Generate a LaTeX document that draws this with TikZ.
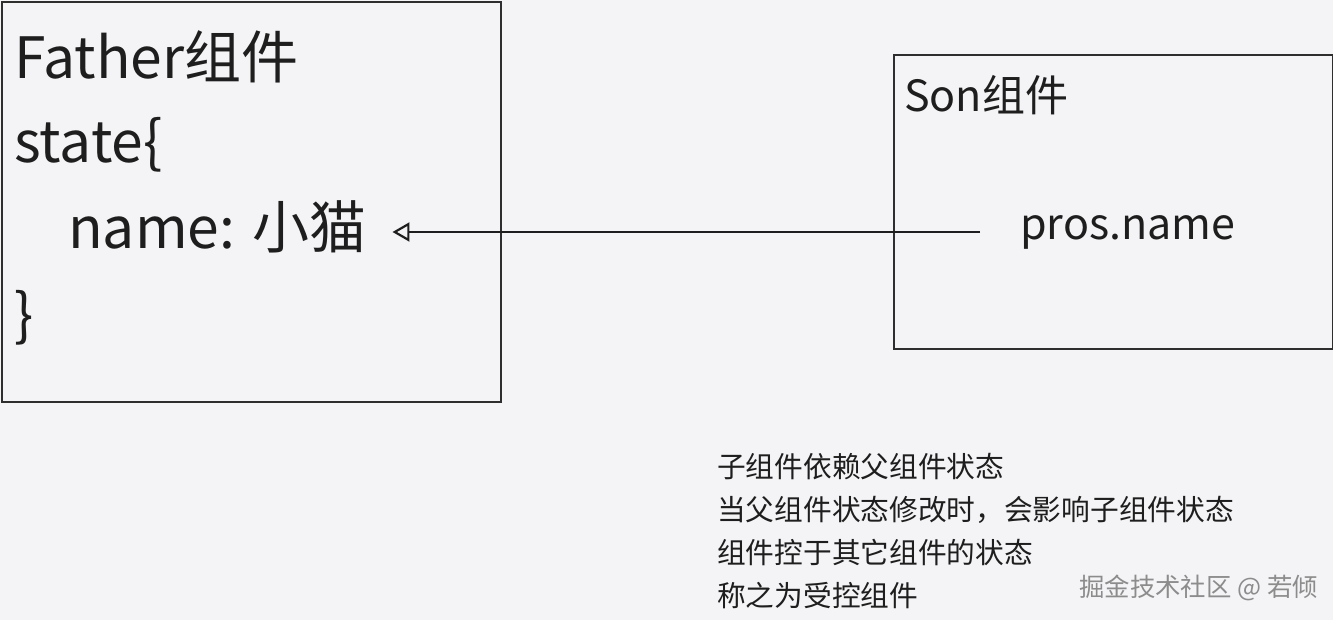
\documentclass[tikz,border=0pt]{standalone}
\usepackage{fontspec}
\setmainfont{Noto Sans CJK SC}
\usetikzlibrary{arrows.meta,positioning}

\definecolor{bggray}{HTML}{F4F4F6}
\definecolor{linegray}{HTML}{2E2E2E}
\definecolor{inkgray}{HTML}{1E1E1E}
\definecolor{markgray}{HTML}{8C8C8C}

\begin{document}
\begin{tikzpicture}[x=1pt,y=-1pt,
    box/.style={draw=linegray,line width=2.4pt,anchor=north west,inner sep=0pt},
    code/.style={anchor=base west,inner sep=0pt,text=inkgray,font=\fontsize{57}{68}\selectfont},
    small/.style={anchor=base west,inner sep=0pt,text=inkgray,font=\fontsize{43}{52}\selectfont},
    note/.style={anchor=base west,inner sep=0pt,text=inkgray,font=\fontsize{28.7}{34}\selectfont},
    link/.style={draw=inkgray,line width=2pt,-{Triangle[open,length=17pt,width=19pt,line width=2.2pt]}}]
  \useasboundingbox[fill=bggray] (0,0) rectangle (1333,620);

  % father component
  \node[box,minimum width=499pt,minimum height=400pt] (father) at (1,1) {};
  \node[code] (ftitle) at (14,79) {Father组件};
  \node[code] (state) at (14,163) {state\{};
  \node[code] (cat) at (68,249) {name: 小猫};
  \node[code] (close) at (14,335) {\}};

  % son component
  \node[box,minimum width=439pt,minimum height=294pt] (son) at (893,54) {};
  \node[small] (stitle) at (904,112) {Son组件};
  \node[small] (pros) at (1020,240) {pros.name};

  % props flow back to the father
  \coordinate (head) at ([xshift=26pt,yshift=17pt]cat.base east);
  \coordinate (tail) at ([xshift=-40pt]pros.west);
  \draw[link] (tail |- head) -- (head);

  % explanation
  \foreach \txt [count=\i] in {子组件依赖父组件状态,当父组件状态修改时，会影响子组件状态,组件控于其它组件的状态,称之为受控组件}
    \node[note] (note\i) at (717,{434+43*\i}) {\txt};

  \node[anchor=base west,inner sep=0pt,text=markgray,font=\fontsize{25.4}{30}\selectfont] (mark) at (1079,596) {掘金技术社区 @ 若倾};
\end{tikzpicture}
\end{document}
